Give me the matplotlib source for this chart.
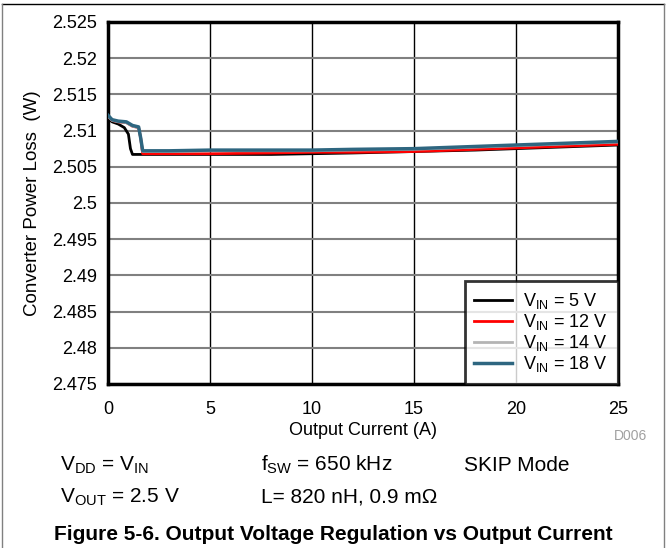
import matplotlib.pyplot as plt
from matplotlib.lines import Line2D

plt.rcParams['font.family'] = ['Liberation Sans', 'DejaVu Sans']
plt.rcParams['mathtext.fontset'] = 'custom'
plt.rcParams['mathtext.rm'] = 'Liberation Sans'
plt.rcParams['mathtext.it'] = 'Liberation Sans'

# data
x_5v = [0, 0.2, 0.5, 0.8, 1.0, 1.1, 1.2, 2, 4, 6, 8, 10, 12, 15, 18, 20, 22, 25]
y_5v = [2.5117, 2.5112, 2.5109, 2.5104, 2.5095, 2.5075, 2.5067, 2.5067, 2.5067,
        2.5067, 2.5067, 2.5068, 2.5069, 2.5071, 2.5073, 2.5075, 2.5077, 2.5080]

x_hi = [0, 0.2, 0.5, 0.9, 1.2, 1.5, 1.6, 1.7, 3, 5, 8, 10, 12, 15, 18, 20, 22, 25]
y_12v = [2.5120, 2.5114, 2.5112, 2.5111, 2.5106, 2.5104, 2.5090, 2.5068, 2.5068,
         2.5068, 2.5069, 2.5070, 2.5070, 2.5071, 2.5074, 2.5076, 2.5078, 2.5081]
y_14v = [2.5120, 2.5114, 2.5112, 2.5111, 2.5106, 2.5104, 2.5090, 2.5071, 2.5071,
         2.5072, 2.5072, 2.5072, 2.5073, 2.5074, 2.5077, 2.5079, 2.5081, 2.5084]
y_18v = [2.5121, 2.5115, 2.5113, 2.5112, 2.5107, 2.5105, 2.5090, 2.5072, 2.5072,
         2.5073, 2.5073, 2.5073, 2.5074, 2.5075, 2.5078, 2.5080, 2.5082, 2.5085]

labels = [r'V$_{\mathrm{IN}}$ = 5 V', r'V$_{\mathrm{IN}}$ = 12 V',
          r'V$_{\mathrm{IN}}$ = 14 V', r'V$_{\mathrm{IN}}$ = 18 V']

fig = plt.figure(figsize=(6.68, 5.48), dpi=100)
ax = fig.add_axes([0.1617, 0.2993, 0.7633, 0.6607])

ax.plot(x_5v, y_5v, color='black', lw=2, label=labels[0], zorder=3)
ax.plot(x_hi, y_12v, color='#ff0000', lw=2, label=labels[1], zorder=3)
ax.plot(x_hi, y_14v, color='#b4b4b4', lw=2, label=labels[2], zorder=3)
ax.plot(x_hi, y_18v, color='#2e6680', lw=2.5, label=labels[3], zorder=3)

ax.set_xlim(0, 25)
ax.set_ylim(2.475, 2.525)
ax.set_xticks([0, 5, 10, 15, 20, 25])
ax.set_yticks([2.475 + 0.005 * i for i in range(11)])
ax.set_yticklabels(['2.475', '2.48', '2.485', '2.49', '2.495', '2.5',
                    '2.505', '2.51', '2.515', '2.52', '2.525'])
ax.tick_params(length=0, labelsize=13, pad=8)
ax.tick_params(axis='x', pad=12)
ax.yaxis.grid(True, color='#808080', lw=1.5)
ax.xaxis.grid(True, color='black', lw=1)
ax.set_axisbelow(True)
for s in ax.spines.values():
    s.set_linewidth(2.5)

ax.set_xlabel('Output Current (A)', fontsize=13, labelpad=3)
ax.set_ylabel('Converter Power Loss  (W)', fontsize=13.5, labelpad=8)

leg = ax.legend(loc='lower right', fontsize=13, frameon=True, fancybox=False,
                borderaxespad=0, handlelength=2.1, handletextpad=0.6,
                labelspacing=0.05, borderpad=0.55)
leg.get_frame().set_edgecolor('black')
leg.get_frame().set_linewidth(2)

fig.text(0.969, 0.204, 'D006', fontsize=10, color='#a0a0a0', ha='right', va='center')

fig.text(0.09, 0.151, r'V$_{\mathrm{DD}}$ = V$_{\mathrm{IN}}$', fontsize=15, va='center')
fig.text(0.39, 0.151, r'f$_{\mathrm{SW}}$ = 650 kHz', fontsize=15, va='center')
fig.text(0.694, 0.151, 'SKIP Mode', fontsize=15, va='center')
fig.text(0.09, 0.093, r'V$_{\mathrm{OUT}}$ = 2.5 V', fontsize=15, va='center')
fig.text(0.39, 0.093, 'L= 820 nH, 0.9 m\u03a9', fontsize=15, va='center')
fig.text(0.499, 0.024, 'Figure 5-6. Output Voltage Regulation vs Output Current',
         fontsize=15, fontweight='bold', ha='center', va='center')

# outer border of the figure box
fig.add_artist(Line2D([0.003, 0.994], [0.993, 0.993], color='black', lw=1))
fig.add_artist(Line2D([0.003, 0.003], [0, 0.993], color='#808080', lw=1))
fig.add_artist(Line2D([0.994, 0.994], [0, 0.993], color='#808080', lw=1))

fig.savefig('out.png', dpi=100)
